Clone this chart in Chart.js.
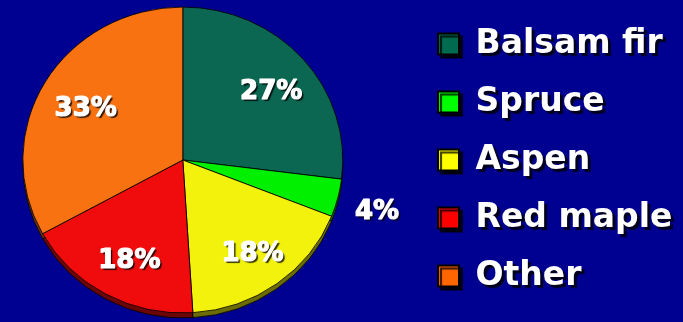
<!DOCTYPE html>
<html>
<head>
<meta charset="utf-8">
<script src="https://cdn.jsdelivr.net/npm/chart.js@4.4.1/dist/chart.umd.min.js"></script>
<style>
  html, body { margin: 0; padding: 0; background: #000091; }
  #wrap { width: 683px; height: 322px; }
</style>
</head>
<body>
<div id="wrap"><canvas id="chart-species-pie"></canvas></div>
<script>
const labels = ['Balsam fir', 'Spruce', 'Aspen', 'Red maple', 'Other'];
const shares = [27, 4, 18, 18, 33];
const sliceColors = ['#0b6652', '#00f000', '#f2f20c', '#f00c0c', '#f87212'];
const legendColors = ['#006b4f', '#00ff00', '#ffff00', '#ff0000', '#ff6600'];

const LEGEND_LEFT = 413;
const TILT = 0.956; // squash the pie a little, like the tilted 3D original

const tiltedPie = {
  id: 'tiltedPie',
  afterLayout(chart) {
    const lg = chart.legend;
    const w = lg.width;
    lg.left = LEGEND_LEFT;
    lg.right = LEGEND_LEFT + w;
  },
  beforeDraw(chart) {
    const ctx = chart.ctx;
    ctx.save();
    ctx.shadowColor = 'rgba(0,0,0,0.8)';
    ctx.shadowOffsetX = 3;
    ctx.shadowOffsetY = 3;
    ctx.shadowBlur = 1;
  },
  beforeDatasetsDraw(chart) {
    const ctx = chart.ctx;
    ctx.restore();
    const arcs = chart.getDatasetMeta(0).data;
    const cx = arcs[0].x, cy = arcs[0].y;
    // darker copy shifted down = the pie's side wall
    ctx.save();
    ctx.translate(0, 5);
    ctx.translate(cx, cy);
    ctx.scale(1, TILT);
    ctx.translate(-cx, -cy);
    ctx.filter = 'brightness(0.45)';
    arcs.forEach(a => a.draw(ctx));
    ctx.restore();
  },
  beforeDatasetDraw(chart) {
    const ctx = chart.ctx;
    const a = chart.getDatasetMeta(0).data[0];
    ctx.save();
    ctx.translate(a.x, a.y);
    ctx.scale(1, TILT);
    ctx.translate(-a.x, -a.y);
  },
  afterDatasetDraw(chart) {
    chart.ctx.restore();
  },
  afterDatasetsDraw(chart) {
    const ctx = chart.ctx;
    const arcs = chart.getDatasetMeta(0).data;
    ctx.save();
    ctx.font = 'bold 26px "DejaVu Sans"';
    ctx.fillStyle = '#ffffff';
    ctx.strokeStyle = '#ffffff';
    ctx.lineWidth = 1.2;
    ctx.lineJoin = 'round';
    ctx.textAlign = 'center';
    ctx.textBaseline = 'middle';
    arcs.forEach((a, i) => {
      const mid = (a.startAngle + a.endAngle) / 2;
      const f = shares[i] < 10 ? 1.24 : 0.72;
      const x = a.x + Math.cos(mid) * a.outerRadius * f + 2;
      const y = a.y + Math.sin(mid) * a.outerRadius * f * TILT + 5;
      const txt = shares[i] + '%';
      ctx.shadowColor = 'rgba(0,0,0,0.8)';
      ctx.shadowOffsetX = 2;
      ctx.shadowOffsetY = 2;
      ctx.shadowBlur = 1;
      ctx.fillText(txt, x, y);
      ctx.shadowColor = 'transparent';
      ctx.strokeText(txt, x, y);
    });
    ctx.restore();
  },
};

new Chart(document.getElementById('chart-species-pie'), {
  type: 'pie',
  data: {
    labels,
    datasets: [{
      data: shares,
      backgroundColor: sliceColors,
      borderColor: 'rgba(0,0,0,0.85)',
      borderWidth: 1,
      radius: 160,
    }],
  },
  options: {
    responsive: true,
    maintainAspectRatio: false,
    animation: false,
    layout: { padding: { left: 25, right: 73, top: 0, bottom: 2 } },
    plugins: {
      tooltip: { enabled: false },
      legend: {
        position: 'right',
        align: 'center',
        labels: {
          boxWidth: 21,
          boxHeight: 21,
          padding: 25,
          color: '#ffffff',
          font: { family: 'DejaVu Sans', size: 33, weight: 'bold' },
          generateLabels: chart => chart.data.labels.map((text, i) => ({
            text,
            fillStyle: legendColors[i],
            strokeStyle: '#000000',
            lineWidth: 2,
            fontColor: '#ffffff',
            hidden: false,
            index: i,
          })),
        },
      },
    },
  },
  plugins: [tiltedPie],
});
</script>
</body>
</html>
